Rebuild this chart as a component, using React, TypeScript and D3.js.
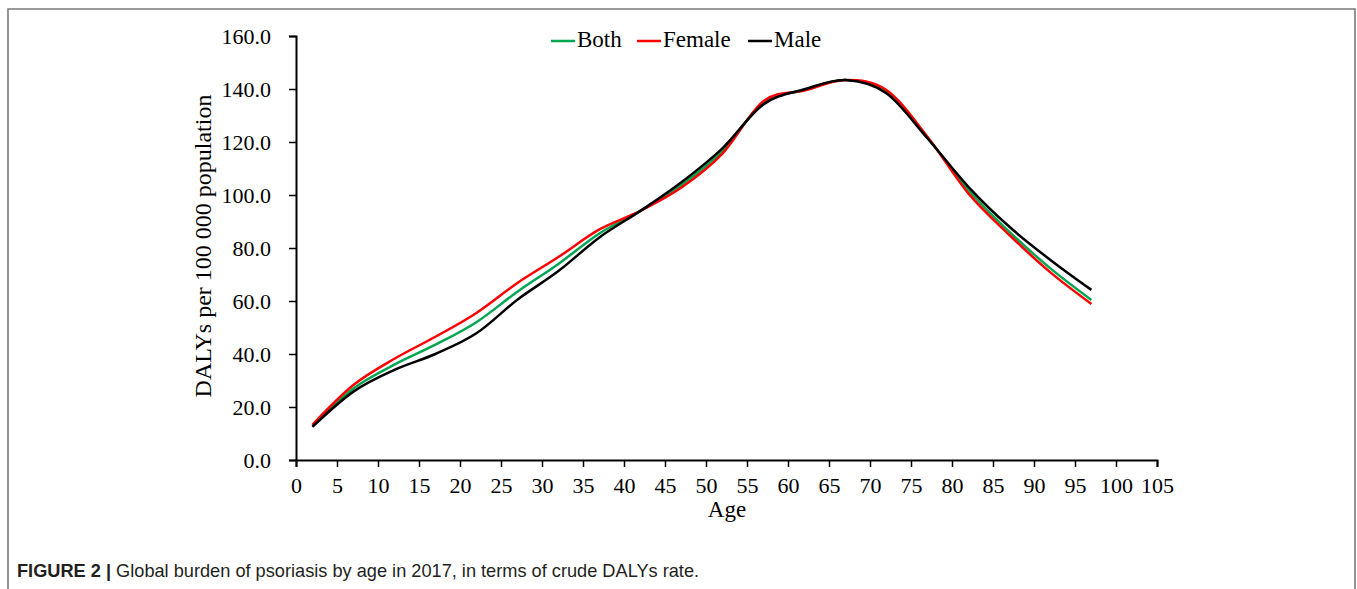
import React, { useRef, useEffect } from 'react';
import * as d3 from 'd3';

// Age midpoints of the 5-year groups (<5 ... 95+)
const ages = [2, 7, 12, 17, 22, 27, 32, 37, 42, 47, 52, 57, 62, 67, 72, 77, 82, 87, 92, 97];

// Crude DALYs per 100 000
const bothValues = [12.9, 27.0, 36.0, 43.5, 52.0, 63.5, 74.0, 85.5, 94.0, 103.8, 116.6, 134.8, 139.6, 143.4, 139.0, 121.7, 101.9, 86.1, 72.3, 60.4];
const femaleValues = [13.3, 28.3, 38.2, 46.5, 55.5, 66.8, 76.6, 87.0, 94.0, 102.8, 115.6, 135.4, 139.4, 143.4, 139.6, 122.0, 100.6, 84.9, 70.8, 58.9];
const maleValues = [12.5, 25.8, 34.0, 40.0, 47.8, 60.5, 71.3, 84.0, 94.0, 104.8, 117.6, 134.2, 139.9, 143.4, 138.4, 121.4, 103.1, 88.0, 75.5, 64.2];

const seriesNames = ['Both', 'Female', 'Male'];
const seriesColors = ['#00a651', '#ff0000', '#000000'];

const xTicks = d3.range(0, 106, 5);
const yTicks = d3.range(0, 161, 20);

const W = 1357;
const H = 589;
const serif = '"Liberation Serif", "Times New Roman", serif';
const sans = '"Liberation Sans", Arial, sans-serif';

const App = () => {
  const svgRef = useRef(null);

  useEffect(() => {
    const svg = d3.select(svgRef.current);
    svg.selectAll('*').remove();

    // plot area in page pixels
    const left = 296, right = 1157, top = 36, bottom = 460;

    const x = d3.scaleLinear().domain([0, 105]).range([left, right]);
    const y = d3.scaleLinear().domain([0, 160]).range([bottom, top]);

    // frame around the figure
    svg.append('path')
      .attr('d', `M8,${H} L8,9 L1355,9 L1355,${H}`)
      .attr('fill', 'none')
      .attr('stroke', '#7a7a7a')
      .attr('stroke-width', 1.6);

    // X axis
    const xAxisG = svg.append('g')
      .attr('transform', `translate(0,${bottom})`)
      .call(d3.axisBottom(x).tickValues(xTicks).tickSize(7).tickPadding(10).tickFormat(d3.format('d')));
    xAxisG.select('.domain').attr('stroke', '#000').attr('stroke-width', 2);
    xAxisG.selectAll('.tick line').attr('stroke', '#000').attr('stroke-width', 1.5);
    xAxisG.selectAll('text')
      .attr('fill', '#000')
      .style('font-size', '22px')
      .style('font-family', serif);

    // Y axis
    const yAxisG = svg.append('g')
      .attr('transform', `translate(${left},0)`)
      .call(d3.axisLeft(y).tickValues(yTicks).tickSize(7).tickPadding(18).tickFormat(d3.format('.1f')));
    yAxisG.select('.domain').attr('stroke', '#000').attr('stroke-width', 2);
    yAxisG.selectAll('.tick line').attr('stroke', '#000').attr('stroke-width', 1.5);
    yAxisG.selectAll('text')
      .attr('fill', '#000')
      .style('font-size', '22px')
      .style('font-family', serif);

    // smoothed lines, Excel style (uniform Catmull-Rom)
    const seriesValues = [bothValues, femaleValues, maleValues];
    const line = d3.line()
      .x((d) => x(d[0]))
      .y((d) => y(d[1]))
      .curve(d3.curveCardinal.tension(0));

    // draw Male last so it sits on top like the original
    seriesValues.forEach((vals, i) => {
      svg.append('path')
        .datum(ages.map((a, j) => [a, vals[j]]))
        .attr('fill', 'none')
        .attr('stroke', seriesColors[i])
        .attr('stroke-width', 2.5)
        .attr('d', line);
    });

    // axis titles
    svg.append('text')
      .attr('x', 727)
      .attr('y', 517)
      .attr('text-anchor', 'middle')
      .style('font-size', '23px')
      .style('font-family', serif)
      .text('Age');

    svg.append('text')
      .attr('transform', `translate(211,246) rotate(-90)`)
      .attr('text-anchor', 'middle')
      .style('font-size', '24px')
      .style('font-family', serif)
      .text('DALYs per 100 000 population');

    // legend
    const legendX = [551, 637, 748];
    seriesNames.forEach((name, i) => {
      svg.append('line')
        .attr('x1', legendX[i])
        .attr('x2', legendX[i] + 24)
        .attr('y1', 41)
        .attr('y2', 41)
        .attr('stroke', seriesColors[i])
        .attr('stroke-width', 2.5);
      svg.append('text')
        .attr('x', legendX[i] + 26)
        .attr('y', 47)
        .style('font-size', '23px')
        .style('font-family', serif)
        .text(name);
    });

    // caption
    const cap = svg.append('text')
      .attr('x', 17)
      .attr('y', 577)
      .style('font-size', '18.2px')
      .style('font-family', sans)
      .attr('fill', '#231f20');
    cap.append('tspan').attr('font-weight', 'bold').text('FIGURE 2 | ');
    cap.append('tspan').text('Global burden of psoriasis by age in 2017, in terms of crude DALYs rate.');

    return () => {
      svg.selectAll('*').remove();
    };
  }, []);

  return (
    <svg
      ref={svgRef}
      width={W}
      height={H}
      viewBox={`0 0 ${W} ${H}`}
      style={{ position: 'absolute', left: 0, top: 0, background: '#fff', display: 'block' }}
    />
  );
};

export default App;
